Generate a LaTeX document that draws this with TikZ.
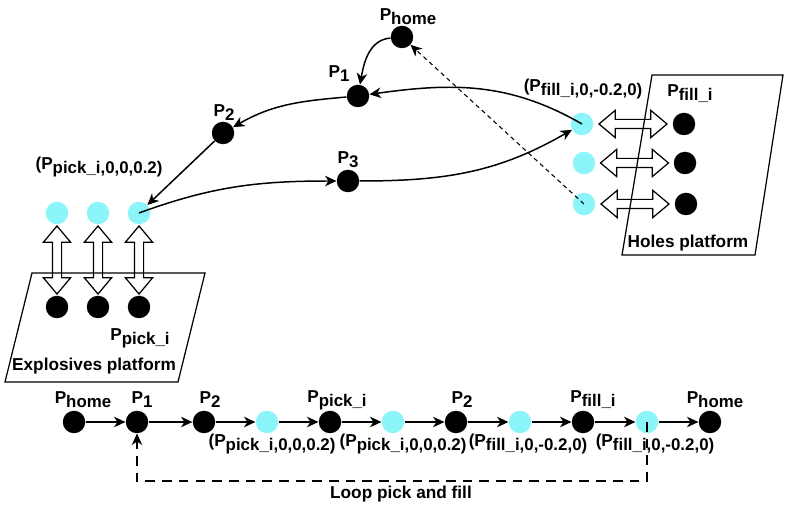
\documentclass[tikz,border=0pt]{standalone}
\usepackage{fontspec}
\setmainfont{Liberation Sans}
\usetikzlibrary{shapes.arrows,arrows.meta,positioning}
\newcommand{\sbt}[1]{\raisebox{-2.2pt}{\fontsize{9.6}{10}\selectfont #1}}

\begin{document}
\begin{tikzpicture}[
  pt/.style={circle,minimum size=0.45cm,inner sep=0pt,fill=cpt},
  ptc/.style={circle,minimum size=0.45cm,inner sep=0pt,fill=cptc},
  lbl/.style={font=\fontsize{9.8}{11}\selectfont\bfseries,inner sep=0pt},
  con/.style={line width=0.85pt,-{Stealth[length=6.5pt,width=6pt,inset=2pt]}},
  dbl/.style={draw,double arrow,line width=0.7pt,minimum height=1.36cm,inner xsep=0pt,inner ysep=0.08cm,
    double arrow head extend=0.18cm,double arrow tip angle=80},
  plat/.style={draw,line width=0.7pt}
]
%
\useasboundingbox (0,0) rectangle (15.72cm,10.10cm);
%
\definecolor{cpt}{rgb}{0.0,0.0,0.0}
\definecolor{cptc}{rgb}{0.55,0.96,0.98}
%
% platforms
\draw[plat] (0.64,4.64) -- (4.10,4.64) -- (3.56,2.46) -- (0.10,2.46) -- cycle;
\draw[plat] (13.04,8.60) -- (15.66,8.60) -- (15.10,5.00) -- (12.44,5.00) -- cycle;
\node[lbl] (explo) at (1.88,2.78) {Explosives platform};
\node[lbl] (holes) at (13.76,5.24) {Holes platform};
%
% path points
\node[pt] (home) at (8.04,9.36) {};
\node[pt] (p1) at (7.16,8.18) {};
\node[pt] (p2) at (4.46,7.44) {};
\node[pt] (p3) at (6.96,6.48) {};
\node[ptc] (pickup1) at (1.14,5.84) {};
\node[ptc] (pickup2) at (1.96,5.84) {};
\node[ptc] (pickup3) at (2.78,5.84) {};
\node[pt] (pick1) at (1.14,3.96) {};
\node[pt] (pick2) at (1.96,3.96) {};
\node[pt] (pick3) at (2.78,3.96) {};
\node[ptc] (fillup1) at (11.64,7.62) {};
\node[ptc] (fillup2) at (11.68,6.84) {};
\node[ptc] (fillup3) at (11.68,6.02) {};
\node[pt] (fill1) at (13.68,7.62) {};
\node[pt] (fill2) at (13.70,6.84) {};
\node[pt] (fill3) at (13.72,6.02) {};
%
\node[lbl] (lhome) at (8.16,9.76) {P\sbt{home}};
\node[lbl] (lp1) at (6.78,8.62) {P\sbt{1}};
\node[lbl] (lp2) at (4.48,7.84) {P\sbt{2}};
\node[lbl] (lp3) at (6.96,6.90) {P\sbt{3}};
\node[lbl] (lpickup) at (1.98,6.76) {(P\sbt{pick\_i,0,0,0.2)}};
\node[lbl] (lpick) at (2.80,3.34) {P\sbt{pick\_i}};
\node[lbl] (lfillup) at (11.66,8.32) {(P\sbt{fill\_i,0,-0.2,0)}};
\node[lbl] (lfill) at (13.80,8.22) {P\sbt{fill\_i}};
%
\node[dbl,rotate=90] (dp1) at (1.14,4.90) {};
\node[dbl,rotate=90] (dp2) at (1.96,4.90) {};
\node[dbl,rotate=90] (dp3) at (2.78,4.90) {};
\node[dbl] (df1) at (12.66,7.62) {};
\node[dbl] (df2) at (12.69,6.84) {};
\node[dbl] (df3) at (12.70,6.02) {};
%
\draw[con] (home) to[out=185,in=80] (p1);
\draw[con] (fillup1.center) to[out=150,in=8] (p1);
\draw[con] (p1) to[out=185,in=30] (p2);
\draw[con] (p2) -- (pickup3);
\draw[con] (pickup3.center) to[out=20,in=180] (p3);
\draw[con] (p3) to[out=0,in=210] (fillup1);
\draw[con,line width=0.6pt,dash pattern=on 2.5pt off 2pt] (fillup3.center) -- (home);
%
% sequence
\node[pt] (s1) at (1.48,1.66) {};
\node[pt] (s2) at (2.74,1.66) {};
\node[pt] (s3) at (4.08,1.66) {};
\node[ptc] (s4) at (5.34,1.66) {};
\node[pt] (s5) at (6.60,1.66) {};
\node[ptc] (s6) at (7.86,1.66) {};
\node[pt] (s7) at (9.12,1.66) {};
\node[ptc] (s8) at (10.40,1.66) {};
\node[pt] (s9) at (11.66,1.66) {};
\node[ptc] (s10) at (12.94,1.66) {};
\node[pt] (s11) at (14.20,1.66) {};
%
\node[lbl] (ls1) at (1.66,2.10) {P\sbt{home}};
\node[lbl] (ls2) at (2.84,2.10) {P\sbt{1}};
\node[lbl] (ls3) at (4.20,2.10) {P\sbt{2}};
\node[lbl] (ls5) at (6.74,2.10) {P\sbt{pick\_i}};
\node[lbl] (ls7) at (9.24,2.10) {P\sbt{2}};
\node[lbl] (ls9) at (11.86,2.10) {P\sbt{fill\_i}};
\node[lbl] (ls11) at (14.30,2.10) {P\sbt{home}};
\node[lbl] (ls4) at (5.44,1.22) {(P\sbt{pick\_i,0,0,0.2)}};
\node[lbl] (ls6) at (8.06,1.22) {(P\sbt{pick\_i,0,0,0.2)}};
\node[lbl] (ls8) at (10.56,1.22) {(P\sbt{fill\_i,0,-0.2,0)}};
\node[lbl] (ls10) at (13.10,1.22) {(P\sbt{fill\_i,0,-0.2,0)}};
%
\draw[con] (s1) -- (s2);
\draw[con] (s2) -- (s3);
\draw[con] (s3) -- (s4);
\draw[con] (s4) -- (s5);
\draw[con] (s5) -- (s6);
\draw[con] (s6) -- (s7);
\draw[con] (s7) -- (s8);
\draw[con] (s8) -- (s9);
\draw[con] (s9) -- (s10);
\draw[con] (s10) -- (s11);
%
\coordinate (loopend) at (12.94,0.48);
\draw[con,line width=0.6pt,dash pattern=on 5.5pt off 4pt] (s10.center) -- (loopend) -| (s2);
\node[lbl] (lloop) at (8.02,0.22) {Loop pick and fill};
%
\end{tikzpicture}
\end{document}
